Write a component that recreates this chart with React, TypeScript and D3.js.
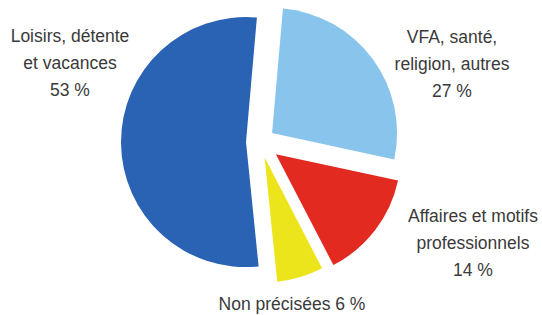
import React from "react";
import * as d3 from "d3";

const categories = [
  "VFA, santé, religion, autres",
  "Affaires et motifs professionnels",
  "Non précisées",
  "Loisirs, détente et vacances",
];
const values = [27, 14, 6, 53];
const colors = ["#88c4ec", "#e22a20", "#ede51c", "#2b63b4"];
const explode = [15, 20, 16, 14];

const labelLines: string[][] = [
  ["VFA, santé,", "religion, autres", "27 %"],
  ["Affaires et motifs", "professionnels", "14 %"],
  ["Non précisées 6 %"],
  ["Loisirs, détente", "et vacances", "53 %"],
];
const labelAnchors: [number, number][] = [
  [452, 43],
  [473, 222],
  [292, 310],
  [70, 42],
];

const W = 542;
const H = 315;
const CX = 260;
const CY = 142;
const R = 125;
const START = (5 * Math.PI) / 180;

export default function App() {
  const pie = d3
    .pie<number>()
    .sort(null)
    .value((d) => d)
    .startAngle(START)
    .endAngle(START + 2 * Math.PI);
  const arcs = pie(values);
  const arcGen = d3.arc<d3.PieArcDatum<number>>().innerRadius(0).outerRadius(R);

  return (
    <svg
      width={W}
      height={H}
      style={{ position: "absolute", left: 0, top: 0, background: "#ffffff" }}
    >
      <g transform={`translate(${CX},${CY})`}>
        {arcs.map((a, i) => {
          const mid = (a.startAngle + a.endAngle) / 2;
          const dx = explode[i] * Math.sin(mid);
          const dy = -explode[i] * Math.cos(mid);
          return (
            <path
              key={categories[i]}
              d={arcGen(a) || ""}
              fill={colors[i]}
              transform={`translate(${dx},${dy})`}
            />
          );
        })}
      </g>
      {labelLines.map((lines, i) => (
        <text
          key={i}
          x={labelAnchors[i][0]}
          y={labelAnchors[i][1]}
          textAnchor="middle"
          fontFamily="'Liberation Sans', Arial, sans-serif"
          fontSize={17.5}
          fill="#3a3a3a"
        >
          {lines.map((l, j) => (
            <tspan key={j} x={labelAnchors[i][0]} dy={j === 0 ? 0 : 27}>
              {l}
            </tspan>
          ))}
        </text>
      ))}
    </svg>
  );
}
